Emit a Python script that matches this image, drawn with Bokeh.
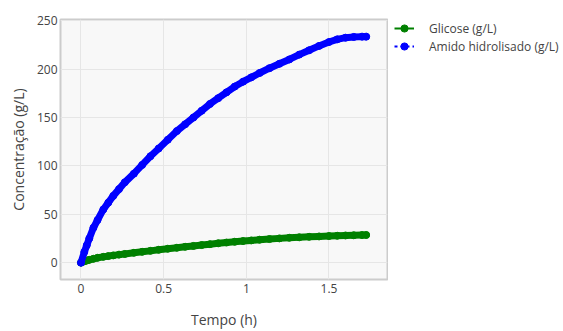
from bokeh.plotting import figure
from bokeh.layouts import row
from bokeh.models import Legend, LegendItem, FixedTicker, Range1d
from bokeh.embed import file_html
from bokeh.resources import INLINE

# data
tempo = [0, 0.02, 0.035, 0.05, 0.075, 0.1, 0.135, 0.165, 0.195, 0.23, 0.265,
         0.32, 0.37, 0.42, 0.47, 0.525, 0.58, 0.63, 0.68, 0.73, 0.78, 0.83,
         0.88, 0.93, 0.98, 1.03, 1.08, 1.14, 1.2, 1.26, 1.32, 1.38, 1.44,
         1.5, 1.55, 1.6, 1.65, 1.7, 1.725]
amido = [0, 11, 18, 25, 36, 44, 55, 62, 69, 76, 83,
         92, 101, 110, 118, 127, 136, 143, 150, 157, 164, 170,
         176, 182, 187, 191.5, 196, 201, 205.5, 210, 215, 219.5, 224,
         228, 230.8, 232.5, 233.3, 233.6, 233.6]
glicose = [0, 1.4, 2.2, 2.9, 4.0, 5.0, 6.0, 6.8, 7.5, 8.3, 9.0,
           10.2, 11.2, 12.2, 13.3, 14.4, 15.4, 16.4, 17.3, 18.2, 19.1, 20.0,
           20.8, 21.6, 22.3, 23.0, 23.7, 24.4, 25.1, 25.7, 26.2, 26.7, 27.1,
           27.5, 27.8, 28.1, 28.3, 28.5, 28.6]

x_ticks = [0, 0.5, 1, 1.5]
x_tick_labels = ["0", "0.5", "1", "1.5"]
y_ticks = [0, 50, 100, 150, 200, 250]

series_names = ["Glicose (g/L)", "Amido hidrolisado (g/L)"]
x_title = "Tempo (h)"
y_title = "Concentração (g/L)"

FONT = "Open Sans"
TXT = "#444444"
GREEN = "#008000"
BLUE = "#0000ff"

p = figure(width=388, height=331, output_backend="svg", toolbar_location=None,
           x_range=Range1d(-0.124, 1.854), y_range=Range1d(-17.4, 251.3),
           min_border_left=60, min_border_right=1, min_border_top=16,
           min_border_bottom=52)

p.background_fill_color = "#f8f8f8"
p.border_fill_color = "white"
p.outline_line_color = "#cccccc"
p.outline_line_width = 2

for ax in (p.xaxis[0], p.yaxis[0]):
    ax.axis_line_color = None
    ax.major_tick_line_color = None
    ax.minor_tick_line_color = None
    ax.major_tick_out = 0
    ax.major_tick_in = 0
    ax.minor_tick_out = 0
    ax.major_label_text_font = FONT
    ax.major_label_text_font_size = "12px"
    ax.major_label_text_color = TXT
    ax.axis_label_text_font = FONT
    ax.axis_label_text_font_size = "14px"
    ax.axis_label_text_font_style = "normal"
    ax.axis_label_text_color = TXT

p.xaxis.ticker = FixedTicker(ticks=x_ticks)
p.xaxis.major_label_overrides = {t: l for t, l in zip(x_ticks, x_tick_labels)}
p.yaxis.ticker = FixedTicker(ticks=y_ticks)
p.xaxis.axis_label = x_title
p.yaxis.axis_label = y_title
p.xaxis.major_label_standoff = 4
p.xaxis.axis_label_standoff = 14
p.yaxis.major_label_standoff = 3
p.yaxis.axis_label_standoff = 6

p.xgrid.grid_line_color = "#e6e6e6"
p.ygrid.grid_line_color = "#e6e6e6"

# dense-marker band (markers overlap in the original)
p.line(tempo, glicose, line_color=GREEN, line_width=7, line_cap="round", line_join="round")
p.line(tempo, glicose, line_color=GREEN, line_width=2)
p.scatter(tempo, glicose, size=7, fill_color=GREEN, line_color=GREEN)

p.line(tempo, amido, line_color=BLUE, line_width=7, line_cap="round", line_join="round")
p.line(tempo, amido, line_color=BLUE, line_width=2, line_dash="3 3")
p.scatter(tempo, amido, size=7, fill_color=BLUE, line_color=BLUE)

# legend panel on the right (its renderers hold the same series, off-view)
lg = figure(width=175, height=331, output_backend="svg", toolbar_location=None,
            x_range=Range1d(100, 101), y_range=Range1d(100, 101),
            x_axis_location=None, y_axis_location=None,
            min_border_left=6, min_border_right=0, min_border_top=19,
            min_border_bottom=0)
lg.grid.visible = False
lg.outline_line_color = None
lg.background_fill_color = "white"
lg.border_fill_color = "white"

g_line = lg.line(tempo, glicose, line_color=GREEN, line_width=2)
g_pts = lg.scatter(tempo, glicose, size=6, fill_color=GREEN, line_color=GREEN)
b_line = lg.line(tempo, amido, line_color=BLUE, line_width=2, line_dash="3 3")
b_pts = lg.scatter(tempo, amido, size=6, fill_color=BLUE, line_color=BLUE)

legend = Legend(items=[
    LegendItem(label=series_names[0], renderers=[g_line, g_pts]),
    LegendItem(label=series_names[1], renderers=[b_line, b_pts]),
], location="top_left")
legend.background_fill_alpha = 0
legend.border_line_color = None
legend.padding = 0
legend.margin = 0
legend.spacing = 0
legend.glyph_width = 20
legend.glyph_height = 18
legend.label_height = 18
legend.label_standoff = 15
legend.label_text_font = FONT
legend.label_text_font_size = "12px"
legend.label_text_color = TXT
lg.add_layout(legend, "center")

layout = row(p, lg)
open("out.html", "w").write(file_html(layout, INLINE))
